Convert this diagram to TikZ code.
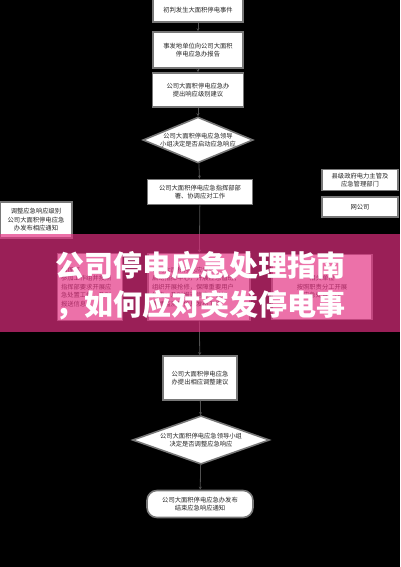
\documentclass[tikz,border=0pt]{standalone}
\usepackage{fontspec}
\newfontfamily\cjk{Noto Sans CJK SC}
\usetikzlibrary{shapes.geometric,arrows.meta}
\definecolor{frame}{RGB}{120,120,120}
\definecolor{conn}{RGB}{80,80,80}
\definecolor{banner}{RGB}{228,47,129}
\tikzset{
  box/.style={draw=frame, line width=1.6pt, fill=white, inner sep=2pt, align=center,
    font=\cjk\fontsize{6.3}{8.5}\selectfont, text=black!85},
  dia/.style={diamond, aspect=2.4, draw=frame, line width=1.6pt, fill=white, inner sep=0pt, align=center,
    font=\cjk\fontsize{6.3}{8.5}\selectfont, text=black!85},
  term/.style={box, rounded corners=10pt},
  conn/.style={draw=conn, line width=0.8pt, -{Stealth[length=3pt,width=3pt]}}
}
\begin{document}
\begin{tikzpicture}[x=1pt,y=-1pt]
\useasboundingbox (0,0) rectangle (400,567);
\fill[black] (0,0) rectangle (400,567);

% main column
\node[box, minimum width=90pt, minimum height=24pt] (b1) at (198,10) {初判发生大面积停电事件};
\node[box, minimum width=90pt, minimum height=36pt, text width=80pt] (b2) at (198,50) {事发地单位向公司大面积\\停电应急办报告};
\node[box, minimum width=91pt, minimum height=34pt, text width=80pt] (b3) at (198,90) {公司大面积停电应急办\\提出响应级别建议};
\node[dia, minimum width=107pt, minimum height=44pt] (d1) at (198,140) {公司大面积停电应急领导\\小组决定是否启动应急响应};
\node[box, minimum width=105pt, minimum height=25pt, text width=96pt] (b4) at (200,192) {公司大面积停电应急指挥部部\\署、协调应对工作};

% side boxes
\node[box, minimum width=76pt, minimum height=21pt] (r1) at (360,180) {县级政府电力主管及\\应急管理部门};
\node[box, minimum width=76pt, minimum height=20pt] (r2) at (360,207) {网公司};
\node[box, minimum width=72pt, minimum height=36pt, text width=66pt] (lb) at (36,220) {调整应急响应级别\\公司大面积停电应急\\办发布相应通知};

% boxes under the banner
\node[box, minimum width=65pt, minimum height=67pt, text width=58pt, align=left] (hl) at (90,287) {指挥部\\参加工作组并按照\\指挥部要求开展应\\急处置工作，及时\\报送信息};
\node[box, minimum width=102pt, minimum height=67pt, text width=94pt, align=left] (hm) at (199,287) {公司大面积停电应急办\\启动指挥中心，开展应急值班；\\组织开展抢修，保障重要用户\\供电；及时报送信息，做好\\舆情监测及信息发布工作};
\node[box, minimum width=100pt, minimum height=65pt, text width=92pt] (hr) at (322,287) {相关单位\\按照职责分工开展\\应急处置工作};

% lower column
\node[box, minimum width=74pt, minimum height=44pt, text width=66pt] (b5) at (200,378) {公司大面积停电应急\\办提出相应调整建议};
\node[dia, minimum width=137pt, minimum height=46pt] (d2) at (201,440) {公司大面积停电应急领导小组\\决定是否调整应急响应};
\node[term, minimum width=106pt, minimum height=27pt, text width=96pt] (t1) at (200,504) {公司大面积停电应急办发布\\结束应急响应通知};

% connectors
\draw[conn] (b1) -- (b2);
\draw[conn] (b2) -- (b3);
\draw[conn] (b3) -- (d1);
\draw[conn] (d1) -- (b4);
\draw[conn] (b4) -- (hm);
\draw[conn] (hm) -- (b5);
\draw[conn] (b5) -- (d2);
\draw[conn] (d2) -- (t1);

% banner overlay
\fill[banner, fill opacity=0.68] (0,234) rectangle (400,332);
\node[font=\cjk\bfseries\fontsize{29}{34}\selectfont, text=white, inner sep=0pt] (title1) at (200,265) {公司停电应急处理指南};
\node[font=\cjk\bfseries\fontsize{29}{34}\selectfont, text=white, inner sep=0pt] (title2) at (200,305) {，如何应对突发停电事};
\end{tikzpicture}
\end{document}
